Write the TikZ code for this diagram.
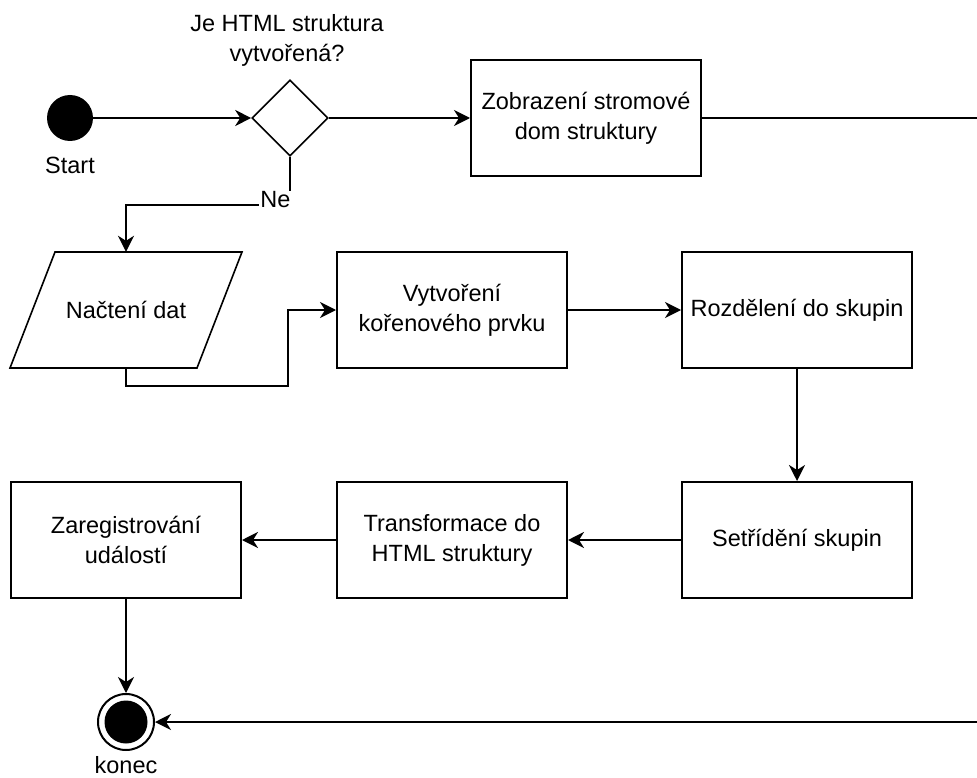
\documentclass[tikz,border=0pt]{standalone}
\usepackage{fontspec}
\setmainfont{Liberation Sans}
\usetikzlibrary{shapes.geometric,arrows.meta,calc}
\tikzset{
  box/.style={draw, line width=2pt, minimum width=230pt, minimum height=116pt, inner sep=0pt, align=center},
  arr/.style={line width=2pt, -{Stealth[length=16pt,width=16pt,inset=5pt]}},
  lbl/.style={inner sep=1pt, align=center}
}
\begin{document}
\begin{tikzpicture}[x=1pt,y=-1pt, font=\fontsize{23.5pt}{30pt}\selectfont]
\useasboundingbox (0,0) rectangle (977,778);
\clip (0,0) rectangle (977,778);
% nodes
\node[circle, fill=black, minimum size=46pt, inner sep=0pt] (start) at (70,118) {};
\node[lbl] (startlbl) at (70,165) {Start};
\node[diamond, draw, line width=1.6pt, minimum width=76pt, minimum height=76pt, inner sep=0pt] (dia) at (290,118) {};
\node[lbl] (q) at (287,40) {Je HTML struktura\\vytvořená?};
\node[box] (zob) at (586,118) {Zobrazení stromové\\dom struktury};
\draw[line width=1.6pt] (55,252) -- (242,252) -- (197,368) -- (10,368) -- cycle;
\node[minimum width=187pt, minimum height=116pt, inner sep=0pt] (nac) at (126,310) {Načtení dat};
\node[box] (vyt) at (452,310) {Vytvoření\\kořenového prvku};
\node[box] (roz) at (797,310) {Rozdělení do skupin};
\node[box] (set) at (797,540) {Setřídění skupin};
\node[box] (tra) at (452,540) {Transformace do\\HTML struktury};
\node[box] (zar) at (126,540) {Zaregistrování\\událostí};
\node[circle, draw, line width=2pt, minimum size=56pt, inner sep=0pt] (konec) at (126,722) {};
\fill (konec.center) circle[radius=21.5pt];
\node[lbl] (koneclbl) at (126,765) {konec};
% connectors
\draw[arr] (start.east) -- (dia.west);
\draw[arr] (dia.east) -- (zob.west);
\coordinate (necorner) at ($(dia.south)+(0,48)$);
\draw[arr] (dia.south) -- (necorner) -| (nac.north);
\node[fill=white, inner xsep=1.5pt, inner ysep=1pt] (ne) at (275.5,200) {Ne};
\coordinate (nacbend) at ($(nac.south)+(0,18)$);
\coordinate (vytbend) at ($(vyt.west)+(-48,0)$);
\draw[arr] (nac.south) -- (nacbend) -| (vytbend) -- (vyt.west);
\draw[arr] (vyt.east) -- (roz.west);
\draw[arr] (roz.south) -- (set.north);
\draw[arr] (set.west) -- (tra.east);
\draw[arr] (tra.west) -- (zar.east);
\draw[arr] (zar.south) -- (konec.north);
\coordinate (offright) at (1000,118);
\draw[arr] (zob.east) -- (offright) |- (konec.east);
\end{tikzpicture}
\end{document}
